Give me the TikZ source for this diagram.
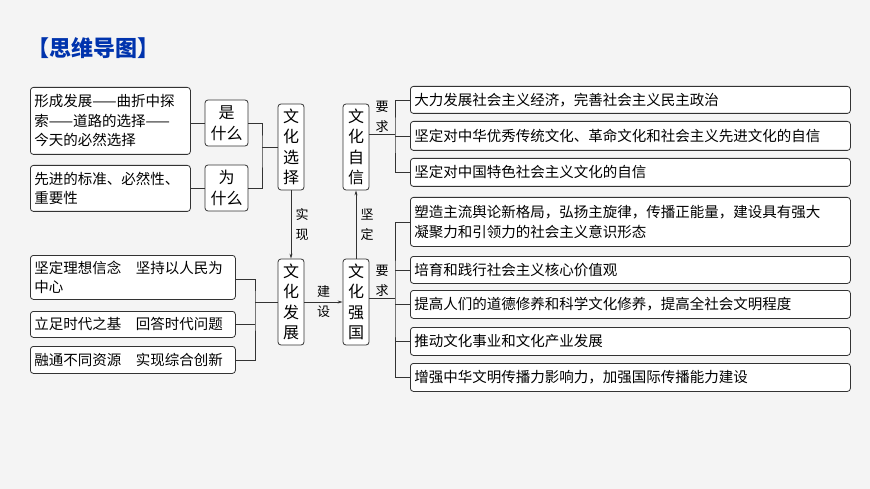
\documentclass[tikz,border=0pt]{standalone}
\usepackage{fontspec}
\newfontfamily\cjk{Noto Sans CJK SC}
\usetikzlibrary{arrows.meta}
\begin{document}
\begin{tikzpicture}[x=1pt,y=-1pt,
 bx/.style={draw=black!80,line width=0.8pt,rounded corners=3pt,fill=white,inner sep=3pt,font=\cjk\fontsize{14.5}{19.5}\selectfont,align=left,anchor=north west},
 vb/.style={draw=black!80,line width=0.8pt,rounded corners=3pt,fill=white,inner sep=0pt,font=\cjk\fontsize{16}{20.5}\selectfont,align=center},
 lbl/.style={font=\cjk\fontsize{13}{20}\selectfont,align=center},
 ln/.style={draw=black!80,line width=0.7pt},
 ar/.style={ln,-{Stealth[length=5pt,width=3pt]}}]
\fill[gray!9] (0,0) rectangle (870,489);
\useasboundingbox (0,0) rectangle (870,489);
\node[font=\cjk\bfseries\fontsize{22}{26}\selectfont,text=blue!60!black!80!cyan,anchor=west] (title) at (24,48) {【思维导图】};
% left top
\node[bx,minimum width=160,minimum height=67,text width=152] (a1) at (30,87) {形成发展——曲折中探\\索——道路的选择——\\今天的必然选择};
\node[bx,minimum width=160,minimum height=46,text width=152] (a2) at (30,165) {先进的标准、必然性、\\重要性};
\node[vb,minimum width=43,minimum height=46] (shi) at (226.5,123) {是\\什么};
\node[vb,minimum width=43,minimum height=46] (wei) at (226.5,188) {为\\什么};
\node[vb,minimum width=26,minimum height=86] (xz) at (291,147) {文\\化\\选\\择};
\node[vb,minimum width=26,minimum height=86] (fz) at (291,302) {文\\化\\发\\展};
\node[vb,minimum width=26,minimum height=86] (zx) at (356,147) {文\\化\\自\\信};
\node[vb,minimum width=26,minimum height=86] (qg) at (356,302) {文\\化\\强\\国};
\draw[ln] (a1.east|-shi) -- (shi);
\draw[ln] (a2.east|-wei) -- (wei);
\coordinate (j1) at (262,147);
\draw[ln] (shi.east) -| (j1) |- (wei.east);
\draw[ln] (j1) -- (xz.west);
% left bottom
\node[bx,minimum width=205,minimum height=44,text width=197] (l1) at (30,255) {坚定理想信念\quad 坚持以人民为\\中心};
\node[bx,minimum width=205,minimum height=26,text width=197] (l2) at (30,311) {立足时代之基\quad 回答时代问题};
\node[bx,minimum width=205,minimum height=27,text width=197] (l3) at (30,346) {融通不同资源\quad 实现综合创新};
\coordinate (j2) at (255,302);
\draw[ln] (l1.east|-0,279) -| (j2) |- (l3.east);
\draw[ln] (l2.east) -- (l2.east-|j2);
\draw[ln] (j2) -- (fz.west);
\draw[ar] (xz.south) -- (fz.north) node[midway,right,lbl,xshift=1pt]{实\\现};
\draw[ar] (qg.north) -- (zx.south) node[midway,right,lbl,xshift=1pt]{坚\\定};
\draw[ar] (fz.east) -- (qg.west) node[midway,lbl]{建\\设};
% right
\tikzset{rb/.style={bx,minimum width=440,text width=432}}
\node[rb,minimum height=27] (r1) at (410,86) {大力发展社会主义经济，完善社会主义民主政治};
\node[rb,minimum height=29] (r2) at (410,121) {坚定对中华优秀传统文化、革命文化和社会主义先进文化的自信};
\node[rb,minimum height=28] (r3) at (410,158) {坚定对中国特色社会主义文化的自信};
\node[rb,minimum height=49] (r4) at (410,197) {塑造主流舆论新格局，弘扬主旋律，传播正能量，建设具有强大\\凝聚力和引领力的社会主义意识形态};
\node[rb,minimum height=27] (r5) at (410,256) {培育和践行社会主义核心价值观};
\node[rb,minimum height=28] (r6) at (410,290) {提高人们的道德修养和科学文化修养，提高全社会文明程度};
\node[rb,minimum height=28] (r7) at (410,327) {推动文化事业和文化产业发展};
\node[rb,minimum height=28] (r8) at (410,363) {增强中华文明传播力影响力，加强国际传播能力建设};
\coordinate (j3) at (395,134);
\draw[ln] (zx.east|-j3) -- (j3);
\node[lbl] (yq1) at (382,117) {要\\求};
\draw[ln] (r1.west) -| (j3) |- (r3.west);
\draw[ln] (j3|-r2.west) -- (r2.west);
\coordinate (j4) at (395,298);
\draw[ln] (qg.east|-j4) -- (j4);
\node[lbl] (yq2) at (382,281) {要\\求};
\draw[ln] (r4.west) -| (j4) |- (r8.west);
\foreach \r in {r5,r6,r7} \draw[ln] (j4|-\r.west) -- (\r.west);
\end{tikzpicture}
\end{document}
